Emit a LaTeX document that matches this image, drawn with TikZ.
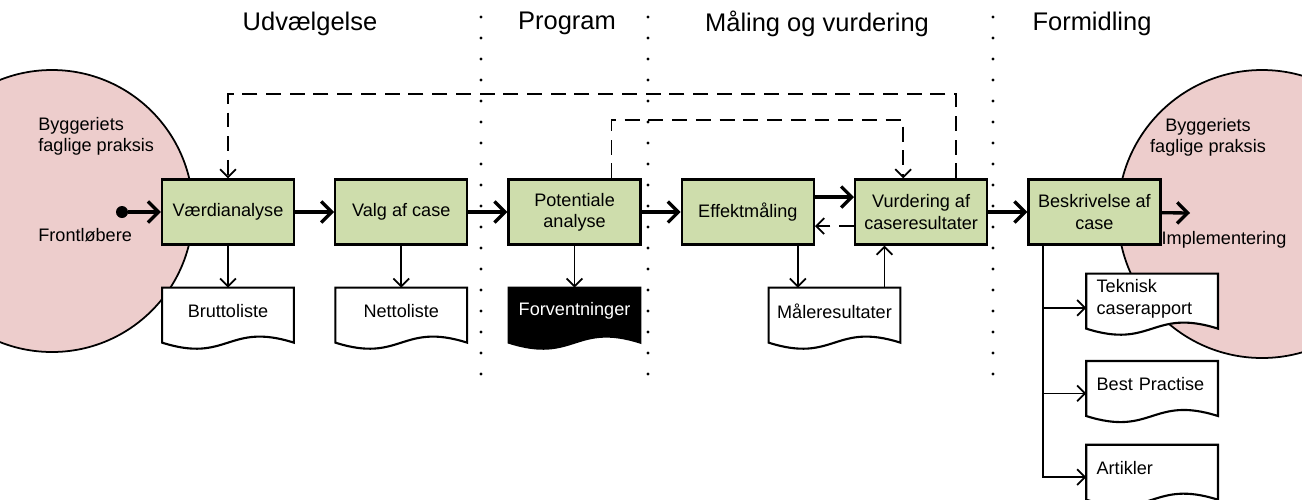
\documentclass[tikz,border=0pt]{standalone}
\usepackage{fontspec}
\setmainfont{Liberation Sans}
\usetikzlibrary{arrows.meta, positioning, calc, backgrounds}

\definecolor{boxgreen}{RGB}{206,221,172}
\definecolor{circlepink}{RGB}{237,205,204}

\newcommand{\docshape}[2]{%
  \draw[fill=#2, line width=1.2pt] (#1.north west) -- (#1.north east) -- ++(0,-1.1)
    .. controls ($(#1.north)+(0,-0.68)$) and ($(#1.north)+(0,-1.52)$) .. ($(#1.north west)+(0,-1.1)$) -- cycle;}

\begin{document}
\begin{tikzpicture}[
    font=\fontsize{10.3}{12}\selectfont,
    node distance=0.78cm,
    box/.style={rectangle, draw, line width=1.3pt, fill=boxgreen, minimum width=2.64cm, minimum height=1.3cm, align=center, inner sep=2pt},
    doc/.style={rectangle, minimum width=2.62cm, minimum height=0.92cm, inner xsep=0.15cm, text width=2.32cm, align=center},
    rdoc/.style={doc, align=left, inner xsep=0.2cm, text width=2.22cm},
    title/.style={font=\fontsize{14.5}{17}\selectfont},
    flow/.style={-{Straight Barb[length=6pt, width=12pt]}, line width=1.9pt},
    thinarrow/.style={-{Straight Barb[length=4.5pt, width=9pt]}, line width=1pt},
    dasharrow/.style={thinarrow, dash pattern=on 8.5pt off 5pt},
    sep/.style={line width=1.9pt, line cap=round, dash pattern=on 0pt off 0.42cm}
]
\useasboundingbox (0,0) rectangle (26.04,-9.98);

\node[title] (udv) at (6.2,-0.47) {Udvælgelse};
\node[title] (prog) at (11.34,-0.47) {Program};
\node[title] (maaling) at (16.34,-0.47) {Måling og vurdering};
\node[title] (formid) at (21.84,-0.47) {Formidling};

\foreach \x in {9.62, 12.96, 19.86}
  \draw[sep] (\x,-0.34) -- (\x,-7.48);

\node[align=left, anchor=west, inner sep=0] (bygL) at (0.76,-2.72) {Byggeriets\\faglige praksis};
\node[anchor=west, inner sep=0] (front) at (0.76,-4.70) {Frontløbere};
\node[align=center] (bygR) at (24.16,-2.74) {Byggeriets\\faglige praksis};
\node (implement) at (24.48,-4.80) {Implementering};

\node[box] (vaerdi) at (4.56,-4.24) {Værdianalyse};
\node[box, right=of vaerdi] (valg) {Valg af case};
\node[box, right=of valg] (pot) {Potentiale\\analyse};
\node[box, right=of pot] (eff) {Effektmåling};
\node[box, right=of eff] (vur) {Vurdering af\\caseresultater};
\node[box, right=of vur] (besk) {Beskrivelse af\\case};

\node[doc, below=0.84cm of vaerdi] (brutto) {Bruttoliste};
\node[doc, below=0.84cm of valg] (netto) {Nettoliste};
\node[doc, below=0.84cm of pot, text=white] (forv) {Forventninger};
\coordinate (maalpos) at ($(eff.south)!0.5!(vur.south)$);
\node[doc, below=0.84cm of maalpos] (maal) {Måleresultater};

\node[rdoc, anchor=north west] (tek) at ([xshift=1.18cm, yshift=-0.56cm]besk.south west) {Teknisk\\caserapport};
\node[rdoc, below=0.74cm of tek] (best) {Best Practise};
\node[rdoc, below=0.74cm of best] (art) {Artikler};

\node[circle, fill, inner sep=0, minimum size=0.24cm] (start) at (2.44,-4.24) {};
\coordinate (impl) at (23.8,-4.26);

\draw[flow] (start) -- (vaerdi);
\draw[flow] (vaerdi) -- (valg);
\draw[flow] (valg) -- (pot);
\draw[flow] (pot) -- (eff);
\draw[flow] ([yshift=0.3cm]eff.east) -- ([yshift=0.3cm]eff.east -| vur.west);
\draw[dasharrow] ([yshift=-0.28cm]vur.west) -- ([yshift=-0.28cm]vur.west -| eff.east);
\draw[flow] (vur) -- (besk);
\draw[flow] (besk) -- (impl);

\draw[thinarrow] (vaerdi) -- (brutto);
\draw[thinarrow] (valg) -- (netto);
\draw[thinarrow] (pot) -- (forv);
\draw[thinarrow] ([xshift=1cm]eff.south) -- ([xshift=1cm]eff.south |- maal.north);
\draw[thinarrow] ([xshift=1cm]maal.north) -- ([xshift=1cm]maal.north |- vur.south);

\draw[dasharrow] ([xshift=0.7cm]vur.north) -- ++(0,1.68) -| (vaerdi.north);
\draw[dasharrow] ([xshift=0.74cm]pot.north) -- ++(0,1.16) -| ([xshift=-0.36cm]vur.north);

\foreach \d in {tek, best, art}
  \draw[thinarrow] ([xshift=0.32cm]besk.south west) |- ([yshift=-0.18cm]\d.west);

\begin{scope}[on background layer]
  \node[circle, draw, line width=1pt, fill=circlepink, minimum size=5.64cm] (praksisL) at (1.04,-4.22) {};
  \node[circle, draw, line width=1pt, fill=circlepink, minimum size=5.76cm] (praksisR) at (25.24,-4.28) {};
  \docshape{brutto}{white}
  \docshape{netto}{white}
  \docshape{forv}{black}
  \docshape{maal}{white}
  \docshape{tek}{white}
  \docshape{best}{white}
  \docshape{art}{white}
\end{scope}
\end{tikzpicture}
\end{document}
